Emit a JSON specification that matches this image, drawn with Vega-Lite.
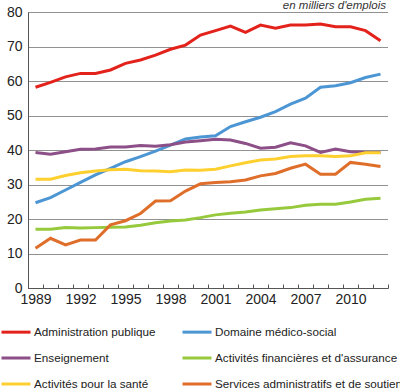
{
"$schema": "https://vega.github.io/schema/vega-lite/v6.json",
"width": 360,
"height": 276,
"autosize": {"type": "none"},
"padding": {"left": 28, "top": 12, "right": 12, "bottom": 100},
"title": {"text": "en milliers d'emplois", "anchor": "end", "frame": "group", "orient": "top", "offset": -1, "dy": 5, "dx": -2, "fontSize": 11.5, "fontStyle": "italic", "fontWeight": "normal", "font": "Liberation Sans", "color": "#333333"},
"config": {"view": {"stroke": null}, "font": "Liberation Sans"},
"data": {"values": [
{"annee":1989,"secteur":"Administration publique","emplois":58.2},{"annee":1989,"secteur":"Domaine médico-social","emplois":24.7},{"annee":1989,"secteur":"Enseignement","emplois":39.3},{"annee":1989,"secteur":"Activités financières et d'assurance","emplois":17.0},{"annee":1989,"secteur":"Activités pour la santé","emplois":31.5},{"annee":1989,"secteur":"Services administratifs et de soutien","emplois":11.5},
{"annee":1990,"secteur":"Administration publique","emplois":59.6},{"annee":1990,"secteur":"Domaine médico-social","emplois":26.2},{"annee":1990,"secteur":"Enseignement","emplois":38.8},{"annee":1990,"secteur":"Activités financières et d'assurance","emplois":17.0},{"annee":1990,"secteur":"Activités pour la santé","emplois":31.5},{"annee":1990,"secteur":"Services administratifs et de soutien","emplois":14.4},
{"annee":1991,"secteur":"Administration publique","emplois":61.2},{"annee":1991,"secteur":"Domaine médico-social","emplois":28.4},{"annee":1991,"secteur":"Enseignement","emplois":39.5},{"annee":1991,"secteur":"Activités financières et d'assurance","emplois":17.5},{"annee":1991,"secteur":"Activités pour la santé","emplois":32.6},{"annee":1991,"secteur":"Services administratifs et de soutien","emplois":12.5},
{"annee":1992,"secteur":"Administration publique","emplois":62.2},{"annee":1992,"secteur":"Domaine médico-social","emplois":30.6},{"annee":1992,"secteur":"Enseignement","emplois":40.2},{"annee":1992,"secteur":"Activités financières et d'assurance","emplois":17.4},{"annee":1992,"secteur":"Activités pour la santé","emplois":33.4},{"annee":1992,"secteur":"Services administratifs et de soutien","emplois":13.9},
{"annee":1993,"secteur":"Administration publique","emplois":62.2},{"annee":1993,"secteur":"Domaine médico-social","emplois":32.8},{"annee":1993,"secteur":"Enseignement","emplois":40.3},{"annee":1993,"secteur":"Activités financières et d'assurance","emplois":17.5},{"annee":1993,"secteur":"Activités pour la santé","emplois":33.9},{"annee":1993,"secteur":"Services administratifs et de soutien","emplois":13.9},
{"annee":1994,"secteur":"Administration publique","emplois":63.2},{"annee":1994,"secteur":"Domaine médico-social","emplois":34.7},{"annee":1994,"secteur":"Enseignement","emplois":40.9},{"annee":1994,"secteur":"Activités financières et d'assurance","emplois":17.6},{"annee":1994,"secteur":"Activités pour la santé","emplois":34.3},{"annee":1994,"secteur":"Services administratifs et de soutien","emplois":18.3},
{"annee":1995,"secteur":"Administration publique","emplois":65.1},{"annee":1995,"secteur":"Domaine médico-social","emplois":36.6},{"annee":1995,"secteur":"Enseignement","emplois":40.9},{"annee":1995,"secteur":"Activités financières et d'assurance","emplois":17.7},{"annee":1995,"secteur":"Activités pour la santé","emplois":34.4},{"annee":1995,"secteur":"Services administratifs et de soutien","emplois":19.5},
{"annee":1996,"secteur":"Administration publique","emplois":66.1},{"annee":1996,"secteur":"Domaine médico-social","emplois":38.1},{"annee":1996,"secteur":"Enseignement","emplois":41.3},{"annee":1996,"secteur":"Activités financières et d'assurance","emplois":18.2},{"annee":1996,"secteur":"Activités pour la santé","emplois":34.0},{"annee":1996,"secteur":"Services administratifs et de soutien","emplois":21.6},
{"annee":1997,"secteur":"Administration publique","emplois":67.5},{"annee":1997,"secteur":"Domaine médico-social","emplois":39.7},{"annee":1997,"secteur":"Enseignement","emplois":41.1},{"annee":1997,"secteur":"Activités financières et d'assurance","emplois":18.9},{"annee":1997,"secteur":"Activités pour la santé","emplois":33.9},{"annee":1997,"secteur":"Services administratifs et de soutien","emplois":25.2},
{"annee":1998,"secteur":"Administration publique","emplois":69.2},{"annee":1998,"secteur":"Domaine médico-social","emplois":41.4},{"annee":1998,"secteur":"Enseignement","emplois":41.5},{"annee":1998,"secteur":"Activités financières et d'assurance","emplois":19.4},{"annee":1998,"secteur":"Activités pour la santé","emplois":33.7},{"annee":1998,"secteur":"Services administratifs et de soutien","emplois":25.3},
{"annee":1999,"secteur":"Administration publique","emplois":70.4},{"annee":1999,"secteur":"Domaine médico-social","emplois":43.2},{"annee":1999,"secteur":"Enseignement","emplois":42.3},{"annee":1999,"secteur":"Activités financières et d'assurance","emplois":19.7},{"annee":1999,"secteur":"Activités pour la santé","emplois":34.2},{"annee":1999,"secteur":"Services administratifs et de soutien","emplois":28.1},
{"annee":2000,"secteur":"Administration publique","emplois":73.3},{"annee":2000,"secteur":"Domaine médico-social","emplois":43.8},{"annee":2000,"secteur":"Enseignement","emplois":42.7},{"annee":2000,"secteur":"Activités financières et d'assurance","emplois":20.4},{"annee":2000,"secteur":"Activités pour la santé","emplois":34.1},{"annee":2000,"secteur":"Services administratifs et de soutien","emplois":30.2},
{"annee":2001,"secteur":"Administration publique","emplois":74.6},{"annee":2001,"secteur":"Domaine médico-social","emplois":44.1},{"annee":2001,"secteur":"Enseignement","emplois":43.1},{"annee":2001,"secteur":"Activités financières et d'assurance","emplois":21.2},{"annee":2001,"secteur":"Activités pour la santé","emplois":34.4},{"annee":2001,"secteur":"Services administratifs et de soutien","emplois":30.6},
{"annee":2002,"secteur":"Administration publique","emplois":75.9},{"annee":2002,"secteur":"Domaine médico-social","emplois":46.8},{"annee":2002,"secteur":"Enseignement","emplois":42.9},{"annee":2002,"secteur":"Activités financières et d'assurance","emplois":21.7},{"annee":2002,"secteur":"Activités pour la santé","emplois":35.4},{"annee":2002,"secteur":"Services administratifs et de soutien","emplois":30.8},
{"annee":2003,"secteur":"Administration publique","emplois":74.1},{"annee":2003,"secteur":"Domaine médico-social","emplois":48.2},{"annee":2003,"secteur":"Enseignement","emplois":41.9},{"annee":2003,"secteur":"Activités financières et d'assurance","emplois":22.0},{"annee":2003,"secteur":"Activités pour la santé","emplois":36.3},{"annee":2003,"secteur":"Services administratifs et de soutien","emplois":31.3},
{"annee":2004,"secteur":"Administration publique","emplois":76.2},{"annee":2004,"secteur":"Domaine médico-social","emplois":49.5},{"annee":2004,"secteur":"Enseignement","emplois":40.5},{"annee":2004,"secteur":"Activités financières et d'assurance","emplois":22.6},{"annee":2004,"secteur":"Activités pour la santé","emplois":37.1},{"annee":2004,"secteur":"Services administratifs et de soutien","emplois":32.5},
{"annee":2005,"secteur":"Administration publique","emplois":75.3},{"annee":2005,"secteur":"Domaine médico-social","emplois":51.1},{"annee":2005,"secteur":"Enseignement","emplois":40.8},{"annee":2005,"secteur":"Activités financières et d'assurance","emplois":23.0},{"annee":2005,"secteur":"Activités pour la santé","emplois":37.4},{"annee":2005,"secteur":"Services administratifs et de soutien","emplois":33.2},
{"annee":2006,"secteur":"Administration publique","emplois":76.2},{"annee":2006,"secteur":"Domaine médico-social","emplois":53.3},{"annee":2006,"secteur":"Enseignement","emplois":42.1},{"annee":2006,"secteur":"Activités financières et d'assurance","emplois":23.3},{"annee":2006,"secteur":"Activités pour la santé","emplois":38.1},{"annee":2006,"secteur":"Services administratifs et de soutien","emplois":34.7},
{"annee":2007,"secteur":"Administration publique","emplois":76.2},{"annee":2007,"secteur":"Domaine médico-social","emplois":55.0},{"annee":2007,"secteur":"Enseignement","emplois":41.2},{"annee":2007,"secteur":"Activités financières et d'assurance","emplois":24.0},{"annee":2007,"secteur":"Activités pour la santé","emplois":38.3},{"annee":2007,"secteur":"Services administratifs et de soutien","emplois":35.9},
{"annee":2008,"secteur":"Administration publique","emplois":76.5},{"annee":2008,"secteur":"Domaine médico-social","emplois":58.2},{"annee":2008,"secteur":"Enseignement","emplois":39.3},{"annee":2008,"secteur":"Activités financières et d'assurance","emplois":24.3},{"annee":2008,"secteur":"Activités pour la santé","emplois":38.3},{"annee":2008,"secteur":"Services administratifs et de soutien","emplois":33.0},
{"annee":2009,"secteur":"Administration publique","emplois":75.7},{"annee":2009,"secteur":"Domaine médico-social","emplois":58.6},{"annee":2009,"secteur":"Enseignement","emplois":40.3},{"annee":2009,"secteur":"Activités financières et d'assurance","emplois":24.3},{"annee":2009,"secteur":"Activités pour la santé","emplois":38.1},{"annee":2009,"secteur":"Services administratifs et de soutien","emplois":33.0},
{"annee":2010,"secteur":"Administration publique","emplois":75.7},{"annee":2010,"secteur":"Domaine médico-social","emplois":59.5},{"annee":2010,"secteur":"Enseignement","emplois":39.5},{"annee":2010,"secteur":"Activités financières et d'assurance","emplois":24.9},{"annee":2010,"secteur":"Activités pour la santé","emplois":38.3},{"annee":2010,"secteur":"Services administratifs et de soutien","emplois":36.4},
{"annee":2011,"secteur":"Administration publique","emplois":74.6},{"annee":2011,"secteur":"Domaine médico-social","emplois":61.0},{"annee":2011,"secteur":"Enseignement","emplois":39.3},{"annee":2011,"secteur":"Activités financières et d'assurance","emplois":25.7},{"annee":2011,"secteur":"Activités pour la santé","emplois":39.2},{"annee":2011,"secteur":"Services administratifs et de soutien","emplois":35.9},
{"annee":2012,"secteur":"Administration publique","emplois":71.7},{"annee":2012,"secteur":"Domaine médico-social","emplois":62.0},{"annee":2012,"secteur":"Enseignement","emplois":39.3},{"annee":2012,"secteur":"Activités financières et d'assurance","emplois":26.0},{"annee":2012,"secteur":"Activités pour la santé","emplois":39.2},{"annee":2012,"secteur":"Services administratifs et de soutien","emplois":35.2}
]},
"mark": {"type": "line", "strokeWidth": 3, "strokeJoin": "miter"},
"encoding": {
"x": {"field": "annee", "type": "ordinal", "title": null,
 "scale": {"type": "band", "paddingInner": 0, "paddingOuter": 0},
 "axis": {"labelAngle": 0, "tickBand": "extent", "tickSize": -4, "tickColor": "#555555", "domainColor": "#555555", "labelFontSize": 14, "labelColor": "#222222", "labelPadding": 8, "grid": false, "labelExpr": "datum.value % 3 == 0 ? datum.label : ''"}},
"y": {"field": "emplois", "type": "quantitative", "title": null,
 "scale": {"domain": [0, 80], "nice": false},
 "axis": {"values": [0,10,20,30,40,50,60,70,80], "ticks": false, "tickSize": 0, "labelPadding": 6, "labelFontSize": 14, "labelColor": "#222222", "domainColor": "#555555", "grid": true, "gridColor": "#222222", "gridDash": [1, 1], "gridWidth": 1}},
"color": {"field": "secteur", "type": "nominal", "title": null,
 "scale": {"domain": ["Administration publique", "Domaine médico-social", "Enseignement", "Activités financières et d'assurance", "Activités pour la santé", "Services administratifs et de soutien"],
  "range": ["#e3231b", "#4d96d4", "#8c4f87", "#96c93c", "#fdd030", "#df6e2a"]},
 "legend": {"orient": "none", "legendX": -28, "legendY": 304, "direction": "horizontal", "columns": 2, "symbolType": "stroke", "symbolSize": 841, "symbolStrokeWidth": 3, "labelFontSize": 11.7, "labelLimit": 300, "labelColor": "#222222", "labelOffset": 2, "rowPadding": 3, "columnPadding": 20}}
}
}
